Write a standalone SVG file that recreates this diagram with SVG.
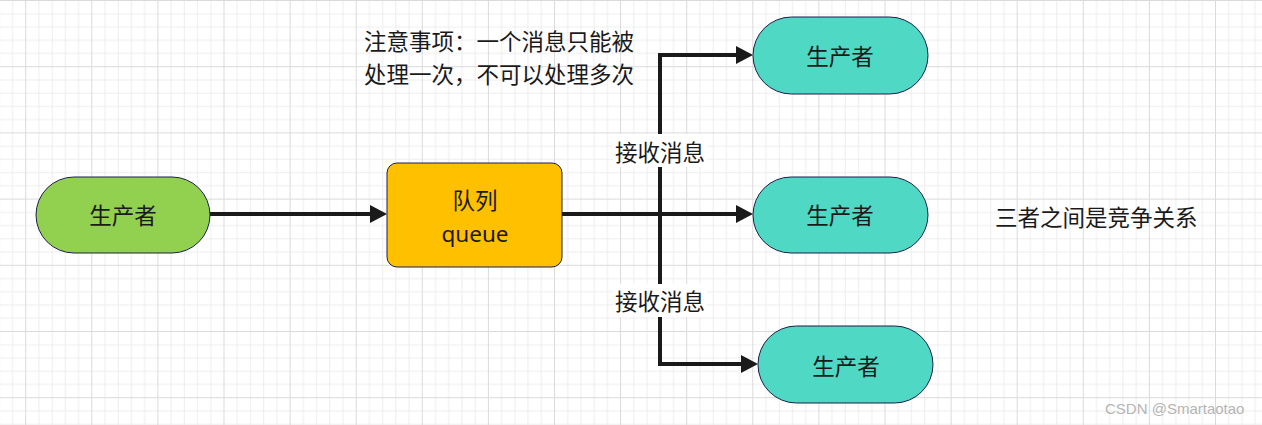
<svg xmlns="http://www.w3.org/2000/svg" width="1262" height="425" viewBox="0 0 1262 425">
<style>
.t{font-family:"Noto Sans","Noto Sans CJK SC",sans-serif;font-size:22.5px;fill:#1a1a1a;dominant-baseline:central}
.m{text-anchor:middle}
.pill{stroke:#1c1f4a;stroke-width:1}
.green{fill:#92d050}
.teal{fill:#4fd8c4}
.conn{fill:none;stroke:#1a1a1a;stroke-width:4;marker-end:url(#ah)}
</style>
<defs>
<pattern id="grid" patternUnits="userSpaceOnUse" x="25.2" y="0" width="66.1" height="66.2">
<path d="M13.72 0V66.2M26.94 0V66.2M40.16 0V66.2M53.38 0V66.2M0 13.74H66.1M0 26.98H66.1M0 40.22H66.1M0 53.46H66.1" stroke="#ededed" stroke-width="1" fill="none"/>
<path d="M0.5 0V66.2M0 0.5H66.1" stroke="#dadada" stroke-width="1" fill="none"/>
</pattern>
<marker id="ah" markerUnits="userSpaceOnUse" viewBox="0 -9 17 18" markerWidth="17" markerHeight="18" refX="0" refY="0" orient="auto">
<path d="M0,-9 L17,0 L0,9 z" fill="#1a1a1a"/>
</marker>
</defs>
<rect width="1262" height="425" fill="#ffffff"/>
<rect width="1262" height="425" fill="url(#grid)"/>

<g id="connectors">
<path class="conn" d="M210,214 H370"/>
<path class="conn" d="M562,214 H736"/>
<path class="conn" d="M562,214 H660 V55 H736"/>
<path class="conn" d="M562,214 H660 V364 H741"/>
<g id="label-recv-1">
<rect x="613" y="134" width="94" height="33" fill="#ffffff"/>
<text class="t m" x="660" y="152">接收消息</text>
</g>
<g id="label-recv-2">
<rect x="613" y="284" width="94" height="33" fill="#ffffff"/>
<text class="t m" x="660" y="301">接收消息</text>
</g>
</g>

<g id="producer">
<rect class="pill green" x="36" y="177" width="174" height="76" rx="38" ry="38"/>
<text class="t m" x="123" y="215">生产者</text>
</g>
<g id="queue">
<rect x="387" y="163" width="175" height="104" rx="10" ry="10" fill="#ffc000" stroke="#1c1f4a" stroke-width="1"/>
<text class="t m" x="475" y="200">队列</text>
<text class="t m" x="475" y="233">queue</text>
</g>
<g id="consumer-top">
<rect class="pill teal" x="753" y="17" width="175" height="77" rx="38.5" ry="38.5"/>
<text class="t m" x="840" y="56">生产者</text>
</g>
<g id="consumer-mid">
<rect class="pill teal" x="753" y="177" width="175" height="76" rx="38" ry="38"/>
<text class="t m" x="840" y="215">生产者</text>
</g>
<g id="consumer-bot">
<rect class="pill teal" x="758" y="326" width="175" height="77" rx="38.5" ry="38.5"/>
<text class="t m" x="846" y="366">生产者</text>
</g>
<g id="note">
<text class="t" x="364" y="41">注意事项：一个消息只能被</text>
<text class="t" x="364" y="74">处理一次，不可以处理多次</text>
</g>
<g id="note-competition">
<text class="t" x="995" y="217">三者之间是竞争关系</text>
</g>
<text x="1105" y="414" font-family="'Liberation Sans',Arial,sans-serif" font-size="15" fill="#b5b5b5">CSDN @Smartaotao</text>
</svg>
